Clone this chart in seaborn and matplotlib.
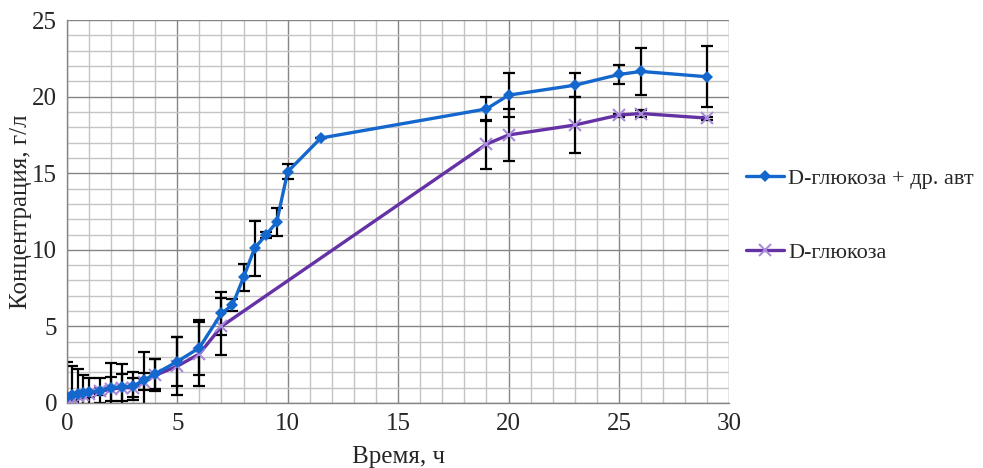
import matplotlib
matplotlib.use("Agg")
import matplotlib.pyplot as plt
import numpy as np
import pandas as pd
import seaborn as sns
from matplotlib.ticker import MultipleLocator

# D-глюкоза + др. авт
t_mix = [0, 0.25, 0.5, 0.75, 1, 1.5, 2, 2.5, 3, 3.5, 4, 5, 6, 7, 7.5, 8, 8.5, 9,
         9.5, 10, 11.5, 19, 20, 23, 25, 26, 29]
c_mix = [0.4, 0.5, 0.6, 0.65, 0.7, 0.8, 1.0, 1.05, 1.1, 1.5, 1.9, 2.7, 3.6, 5.85,
         6.4, 8.2, 10.1, 10.95, 11.8, 15.1, 17.3, 19.2, 20.1, 20.75, 21.45, 21.65, 21.3]
err_mix = [2.3, 1.9, 1.6, 1.2, 0.9, 0.8, 1.6, 1.5, 0.9, 1.8, 1.0, 1.6, 1.8, 1.4,
           0.4, 0.9, 1.8, 0.2, 0.9, 0.5, 0.0, 0.8, 1.45, 0.8, 0.65, 1.55, 2.0]

# D-глюкоза
t_glc = [0, 0.25, 0.5, 0.75, 1, 1.5, 2, 2.5, 3, 3.5, 4, 5, 6, 7, 19, 20, 23, 25, 26, 29]
c_glc = [0.3, 0.35, 0.45, 0.55, 0.6, 0.75, 0.9, 1.0, 1.0, 1.4, 1.8, 2.4, 3.2, 5.0,
         16.9, 17.5, 18.15, 18.8, 18.9, 18.6]
err_glc = [0.2, 0.2, 0.2, 0.2, 0.2, 0.2, 0.8, 0.9, 0.6, 0.55, 1.05, 1.9, 2.1, 1.85,
           1.6, 1.7, 1.8, 0.1, 0.2, 0.1]

label_mix = "D-глюкоза + др. авт"
label_glc = "D-глюкоза"

df_mix = pd.DataFrame({"t": t_mix, "c": c_mix})
df_glc = pd.DataFrame({"t": t_glc, "c": c_glc})

sns.set_style("white")
plt.rcParams["font.family"] = ["Liberation Serif", "DejaVu Serif"]

fig = plt.figure(figsize=(9.83, 4.68), dpi=100)
ax = fig.add_axes([0.068, 0.139, 0.674, 0.818])

blue = "#1467CC"
purple = "#6532A6"

ax.errorbar(t_mix, c_mix, yerr=err_mix, fmt="none", ecolor="black",
            elinewidth=1.6, capsize=4, capthick=1.6, zorder=2)
ax.errorbar(t_glc, c_glc, yerr=err_glc, fmt="none", ecolor="black",
            elinewidth=1.6, capsize=4, capthick=1.6, zorder=2)

sns.lineplot(data=df_glc, x="t", y="c", ax=ax, color=purple, lw=2.4,
             marker="x", markersize=9, markeredgewidth=1.5,
             markeredgecolor="#A98BDB", sort=False, estimator=None,
             label=label_glc, zorder=3)
sns.lineplot(data=df_mix, x="t", y="c", ax=ax, color=blue, lw=2.4,
             marker="D", markersize=6.5, markeredgewidth=0, sort=False,
             estimator=None, label=label_mix, zorder=4)

ax.set_xlim(0, 30)
ax.set_ylim(0, 25)
ax.xaxis.set_major_locator(MultipleLocator(5))
ax.yaxis.set_major_locator(MultipleLocator(5))
ax.xaxis.set_minor_locator(MultipleLocator(1))
ax.yaxis.set_minor_locator(MultipleLocator(1))
ax.grid(which="minor", color="#c4c4c4", lw=1.0)
ax.grid(which="major", color="#858585", lw=1.0)
ax.set_axisbelow(True)

for side in ["top", "right"]:
    ax.spines[side].set_visible(False)
for side in ["left", "bottom"]:
    ax.spines[side].set_color("#858585")
    ax.spines[side].set_linewidth(1.0)

ax.tick_params(which="major", direction="out", length=5, width=1,
               color="#858585", labelsize=18, pad=2)
ax.tick_params(which="minor", length=0)

ax.set_xlabel("Время, ч", fontsize=18, labelpad=8)
ax.set_ylabel("Концентрация, г/л", fontsize=18, labelpad=0)

handles, labels = ax.get_legend_handles_labels()
ax.get_legend().remove()
order = [labels.index(label_mix), labels.index(label_glc)]
fig.legend([handles[i] for i in order], [labels[i] for i in order],
           loc="center left", bbox_to_anchor=(0.75, 0.54), frameon=False,
           fontsize=16, labelspacing=2.4, handlelength=1.7, handletextpad=0.2,
           borderaxespad=0)

fig.savefig("out.png", dpi=100)
